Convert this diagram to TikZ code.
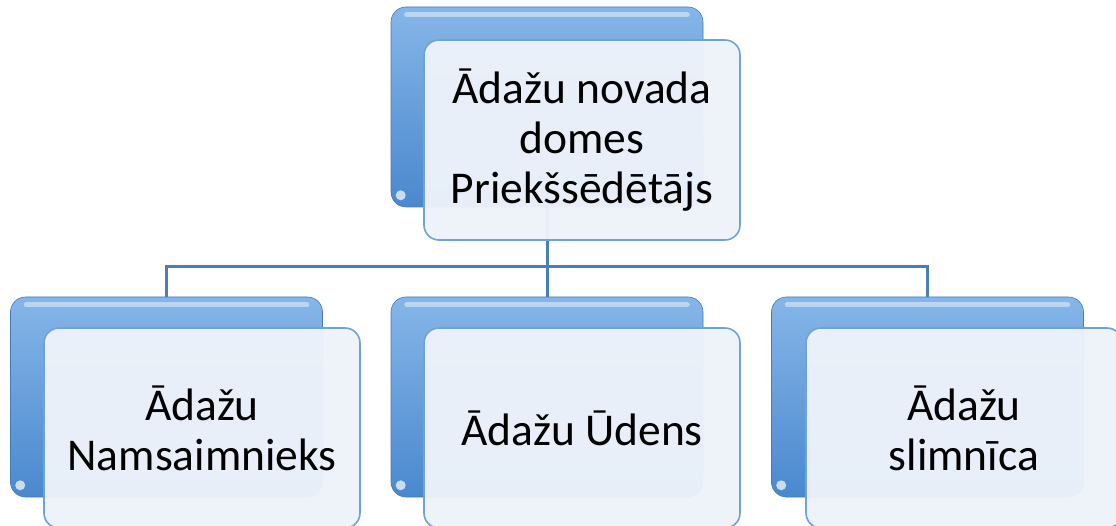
\documentclass[tikz,border=0pt]{standalone}
\usepackage{fontspec}
\setmainfont{Carlito}
\usetikzlibrary{calc}
\definecolor{backtop}{HTML}{86B6E8}
\definecolor{backbot}{HTML}{4A88CE}
\definecolor{frontfill}{HTML}{EEF3FA}
\definecolor{frontline}{HTML}{6FA2D8}
\definecolor{connc}{HTML}{4A7EBB}
\tikzset{
  backbox/.style={rectangle, rounded corners=15pt, minimum width=312pt, minimum height=200pt,
    top color=backtop, bottom color=backbot, draw=backbot!90!black, line width=0.6pt},
  frontbox/.style={rectangle, rounded corners=15pt, minimum width=316pt, minimum height=200pt,
    fill=frontfill, fill opacity=0.96, text opacity=1, draw=frontline, line width=1.6pt,
    align=center, font=\fontsize{45.5}{50}\selectfont, text=black},
  conn/.style={draw=connc, line width=3pt},
  gloss/.style={draw=white, opacity=0.45, line width=5pt, line cap=round}
}
\begin{document}
\begin{tikzpicture}[x=1pt,y=-1pt]
\useasboundingbox (0,0) rectangle (1116,526);
\clip (0,0) rectangle (1116,526);
\fill[white] (0,0) rectangle (1116,526);
% back boxes
\node[backbox] (topback) at (547,107) {};
\node[backbox] (lback) at (166.5,397) {};
\node[backbox] (mback) at (547,397) {};
\node[backbox] (rback) at (927.5,397) {};
\foreach \b in {topback,lback,mback,rback}{
  \draw[gloss] ([xshift=16pt,yshift=-8pt]\b.north west) -- ([xshift=-16pt,yshift=-8pt]\b.north east);
  \fill[white,opacity=0.7] ([xshift=10pt,yshift=12pt]\b.south west) circle (5pt);
}
% connectors
\coordinate (j) at (547,267);
\draw[conn] (topback.south) -- (j);
\draw[conn] (j) -| (lback.north);
\draw[conn] (j) -- (mback.north);
\draw[conn] (j) -| (rback.north);
% front boxes
\node[frontbox] (top) at (582,140) {Ādažu novada\\domes\\Priekšsēdētājs};
\node[frontbox] (l) at (202,428) {Ādažu\\Namsaimnieks};
\node[frontbox] (m) at (582,428) {Ādažu Ūdens};
\node[frontbox] (r) at (964,428) {Ādažu\\slimnīca};
\end{tikzpicture}
\end{document}
